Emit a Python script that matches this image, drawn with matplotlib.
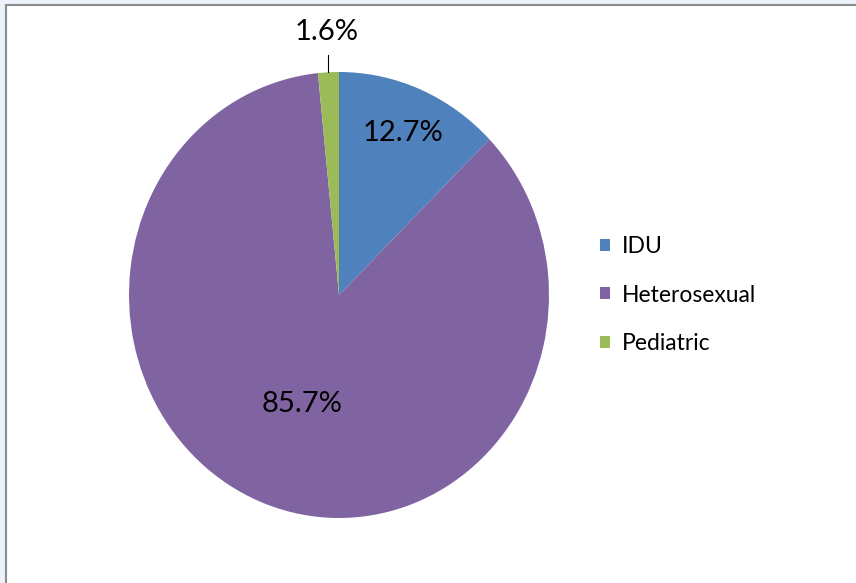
import matplotlib.pyplot as plt
from matplotlib.patches import Rectangle, Patch
import numpy as np

# dados do gráfico
groups = ['IDU', 'Heterosexual', 'Pediatric']
shares = [12.7, 85.7, 1.6]
colors = ['#4F81BD', '#8064A2', '#9BBB59']

plt.rcParams['font.family'] = ['Lato', 'DejaVu Sans']

W, H = 856, 583
fig = plt.figure(figsize=(W / 100, H / 100), dpi=100)
fig.patch.set_facecolor('#EDF2FA')

# moldura branca com borda cinza (só à esquerda e em cima)
fig.patches.append(Rectangle((6 / W, -0.1), 1.2, 1.1 - 5 / H,
                             transform=fig.transFigure, facecolor='white',
                             edgecolor='#8C8C8C', linewidth=1.5, zorder=-5))

# pizza levemente esticada na vertical
cx, cy, rx, ry = 339, 295, 210, 223
ax = fig.add_axes([(cx - rx) / W, (H - cy - ry) / H, 2 * rx / W, 2 * ry / H])
ax.set_zorder(2)
wedges, _ = ax.pie(shares, colors=colors, startangle=90, counterclock=False,
                   wedgeprops=dict(linewidth=0))
ax.set_aspect('auto')
ax.set_xlim(-1, 1)
ax.set_ylim(-1, 1)

# rótulos de porcentagem
dist = [0.79, 0.52, 1.18]
for w, v, d in zip(wedges, shares, dist):
    ang = np.deg2rad((w.theta1 + w.theta2) / 2)
    ax.text(d * np.cos(ang), d * np.sin(ang), f'{v}%', ha='center', va='center',
            fontsize=21, color='black', clip_on=False)

# linha guia do rótulo pequeno
ang = np.deg2rad((wedges[2].theta1 + wedges[2].theta2) / 2)
ax.plot([np.cos(ang)] * 2, [1.0, 1.077], color='black', linewidth=0.8, clip_on=False)

handles = [Patch(facecolor=c, edgecolor='none') for c in colors]
leg = fig.legend(handles, groups, loc='center left', bbox_to_anchor=(600 / W, 1 - 295 / H),
                 frameon=False, fontsize=16.5, handlelength=0.45, handleheight=0.45,
                 handletextpad=0.5, labelspacing=1.2, borderpad=0, borderaxespad=0)
leg.set_zorder(3)

fig.savefig('out.png', dpi=100, facecolor=fig.get_facecolor())
